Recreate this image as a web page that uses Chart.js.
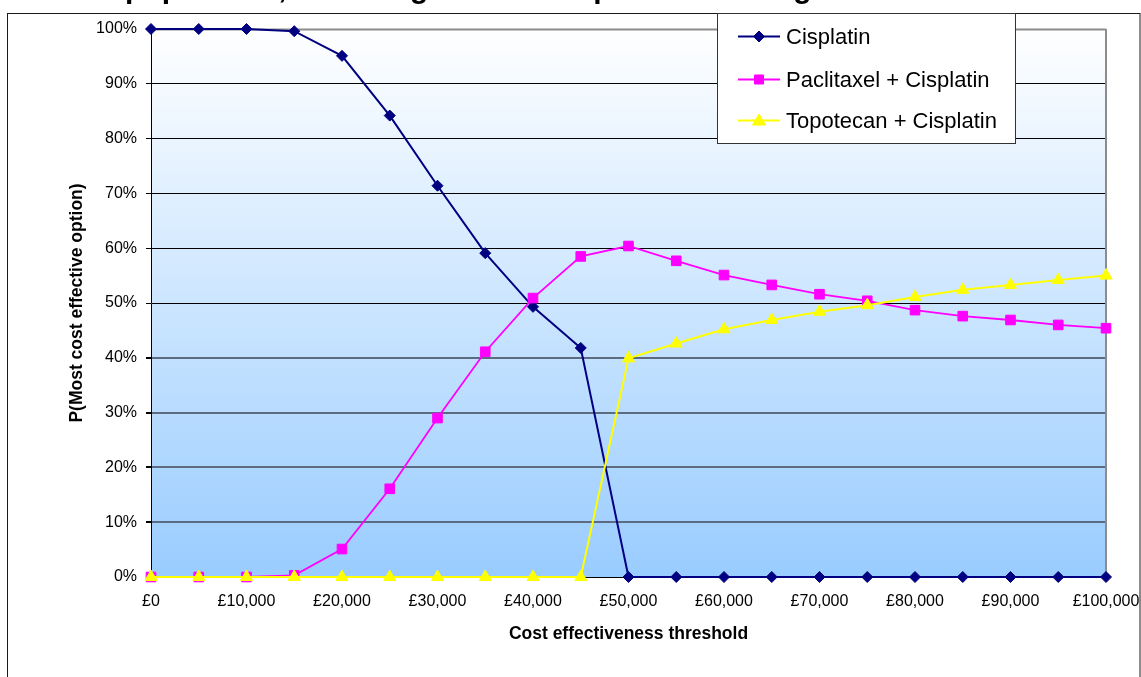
<!DOCTYPE html>
<html>
<head>
<meta charset="utf-8">
<script src="https://cdn.jsdelivr.net/npm/chart.js@4.4.1/dist/chart.umd.min.js"></script>
<style>
  html, body { margin: 0; padding: 0; background: #ffffff; }
  #wrap { width: 1141px; height: 677px; position: relative; }
</style>
</head>
<body>
<div id="wrap"><canvas id="ceac" width="1141" height="677"></canvas></div>
<script>
// Willingness-to-pay thresholds (GBP per QALY)
const thresholds = [0, 5000, 10000, 15000, 20000, 25000, 30000, 35000, 40000, 45000, 50000,
                    55000, 60000, 65000, 70000, 75000, 80000, 85000, 90000, 95000, 100000];

// Probability (%) that each option is the most cost-effective
const cisplatin = [100, 100, 100, 99.6, 95.1, 84.2, 71.4, 59.1, 49.3, 41.8, 0,
                   0, 0, 0, 0, 0, 0, 0, 0, 0, 0];
const paclitaxelCisplatin = [0, 0, 0, 0.3, 5.1, 16.1, 29.0, 41.1, 50.9, 58.5, 60.4,
                             57.7, 55.1, 53.3, 51.6, 50.4, 48.7, 47.6, 46.9, 46.0, 45.4];
const topotecanCisplatin = [0, 0, 0, 0, 0, 0, 0, 0, 0, 0, 39.9,
                            42.6, 45.2, 46.9, 48.4, 49.6, 51.1, 52.4, 53.3, 54.2, 55.0];

const seriesNames = ['Cisplatin', 'Paclitaxel + Cisplatin', 'Topotecan + Cisplatin'];

const chartTitle = 'Whole population, including those with prior debulking';
const xAxisTitle = 'Cost effectiveness threshold';
const yAxisTitle = 'P(Most cost effective option)';

const FONT = "'Liberation Sans', Arial, Helvetica, sans-serif";

const toPoints = (vals) => vals.map((v, i) => ({ x: thresholds[i], y: v }));

// Plot background, frame and the partly visible heading
const framePlugin = {
  id: 'frame',
  beforeDraw(chart) {
    const { ctx, chartArea: a } = chart;
    ctx.save();
    ctx.fillStyle = '#ffffff';
    ctx.fillRect(0, 0, chart.width, chart.height);
    const g = ctx.createLinearGradient(0, a.top, 0, a.bottom);
    g.addColorStop(0, '#ffffff');
    g.addColorStop(1, '#99ccff');
    ctx.fillStyle = g;
    ctx.fillRect(a.left, a.top, a.right - a.left, a.bottom - a.top);
    // outer chart border
    ctx.strokeStyle = '#1a1a1a';
    ctx.lineWidth = 1;
    ctx.strokeRect(7.5, 13.5, 1132.5, 720);
    // heading (sits mostly above the page edge)
    ctx.fillStyle = '#000000';
    ctx.font = 'bold 30px ' + FONT;
    ctx.textBaseline = 'alphabetic';
    ctx.textAlign = 'left';
    const lead = ctx.measureText('Whole ').width;
    ctx.fillText(chartTitle, 125 - lead, -2);
    ctx.restore();
  },
  beforeDatasetsDraw(chart) {
    const { ctx, chartArea: a } = chart;
    ctx.save();
    ctx.strokeStyle = '#8c8c8c';
    ctx.lineWidth = 2;
    ctx.beginPath();
    ctx.moveTo(a.left, a.top + 0.5);
    ctx.lineTo(a.right, a.top + 0.5);
    ctx.moveTo(a.right, a.top);
    ctx.lineTo(a.right, a.bottom);
    ctx.stroke();
    ctx.strokeStyle = '#000000';
    ctx.lineWidth = 1;
    ctx.beginPath();
    ctx.moveTo(a.left, a.bottom + 0.5);
    ctx.lineTo(a.right, a.bottom + 0.5);
    ctx.stroke();
    ctx.restore();
  }
};

function drawMarker(ctx, style, x, y, color) {
  ctx.fillStyle = color;
  ctx.strokeStyle = color;
  ctx.lineWidth = 1;
  ctx.beginPath();
  if (style === 'rectRot') {
    const r = 5.5;
    ctx.moveTo(x, y - r); ctx.lineTo(x + r, y); ctx.lineTo(x, y + r); ctx.lineTo(x - r, y);
  } else if (style === 'rect') {
    ctx.rect(x - 4.5, y - 4.5, 9, 9);
  } else {
    ctx.moveTo(x, y - 6.5); ctx.lineTo(x + 6.5, y + 4.5); ctx.lineTo(x - 6.5, y + 4.5);
  }
  ctx.closePath();
  ctx.fill();
  ctx.stroke();
}

// Boxed legend in the top-right corner
const legendPlugin = {
  id: 'boxLegend',
  afterDraw(chart) {
    const { ctx } = chart;
    const box = { x: 717.5, y: 13.5, w: 298, h: 130 };
    const rows = [36, 79, 120];
    ctx.save();
    ctx.fillStyle = '#ffffff';
    ctx.fillRect(box.x, box.y, box.w, box.h);
    ctx.strokeStyle = '#333333';
    ctx.lineWidth = 1;
    ctx.strokeRect(box.x, box.y, box.w, box.h);
    chart.data.datasets.forEach((ds, i) => {
      const y = rows[i];
      ctx.strokeStyle = ds.borderColor;
      ctx.lineWidth = 2;
      ctx.beginPath();
      ctx.moveTo(738, y + 0.5);
      ctx.lineTo(780, y + 0.5);
      ctx.stroke();
      drawMarker(ctx, ds.pointStyle, 759, y + 0.5, ds.borderColor);
      ctx.fillStyle = '#000000';
      ctx.font = '22px ' + FONT;
      ctx.textAlign = 'left';
      ctx.textBaseline = 'alphabetic';
      ctx.fillText(ds.label, 786, y + 8);
    });
    ctx.restore();
  }
};

const pctTick = (v) => v + '%';
const gbpTick = (v) => '£' + Number(v).toLocaleString('en-GB');

new Chart(document.getElementById('ceac'), {
  type: 'line',
  data: {
    datasets: [
      {
        label: seriesNames[0],
        data: toPoints(cisplatin),
        borderColor: '#000080',
        backgroundColor: '#000080',
        borderWidth: 2,
        pointStyle: 'rectRot',
        pointRadius: 5.5,
        pointBorderWidth: 1,
        order: 2,
        clip: false
      },
      {
        label: seriesNames[1],
        data: toPoints(paclitaxelCisplatin),
        borderColor: '#ff00ff',
        backgroundColor: '#ff00ff',
        borderWidth: 1.8,
        pointStyle: 'rect',
        pointRadius: 6.8,
        pointBorderWidth: 1,
        order: 1,
        clip: false
      },
      {
        label: seriesNames[2],
        data: toPoints(topotecanCisplatin),
        borderColor: '#ffff00',
        backgroundColor: '#ffff00',
        borderWidth: 2,
        pointStyle: 'triangle',
        pointRadius: 7,
        pointBorderWidth: 1,
        order: 0,
        clip: false
      }
    ]
  },
  options: {
    responsive: false,
    devicePixelRatio: 1,
    animation: false,
    events: [],
    layout: { padding: { top: 29, right: 35, left: 0, bottom: 0 } },
    plugins: {
      legend: { display: false },
      tooltip: { enabled: false },
      title: { display: false }
    },
    elements: { line: { tension: 0 } },
    scales: {
      x: {
        type: 'linear',
        min: 0,
        max: 100000,
        afterFit: (s) => { s.height = 100; s.paddingLeft = 0; s.paddingRight = 0; },
        grid: { display: false, drawTicks: false },
        border: { display: false },
        ticks: {
          stepSize: 10000,
          padding: 15,
          color: '#000000',
          maxRotation: 0,
          autoSkip: false,
          font: { family: FONT, size: 16 },
          callback: gbpTick
        },
        title: {
          display: true,
          text: xAxisTitle,
          color: '#000000',
          font: { family: FONT, size: 17.5, weight: 'bold' },
          padding: { top: 0, bottom: 32.5 }
        }
      },
      y: {
        min: 0,
        max: 100,
        afterFit: (s) => { s.width = 151; s.paddingTop = 0; s.paddingBottom = 0; },
        grid: {
          drawTicks: true,
          tickLength: 5,
          tickColor: '#000000',
          color: (c) => {
            const v = c.tick ? c.tick.value : 0;
            if (v === 100) return '#8c8c8c';
            if (v === 0 || v >= 50) return '#000000';
            return '#5d6b80';
          },
          lineWidth: (c) => {
            const v = c.tick ? c.tick.value : 0;
            return (v > 0 && v < 50) ? 2 : 1;
          }
        },
        border: { display: true, color: '#000000', width: 1 },
        ticks: {
          stepSize: 10,
          padding: 9,
          color: '#000000',
          font: { family: FONT, size: 16 },
          callback: pctTick
        },
        title: {
          display: true,
          text: yAxisTitle,
          color: '#000000',
          font: { family: FONT, size: 17.5, weight: 'bold' },
          padding: { top: 66.5, bottom: 0 }
        }
      }
    }
  },
  plugins: [framePlugin, legendPlugin]
});
</script>
</body>
</html>
